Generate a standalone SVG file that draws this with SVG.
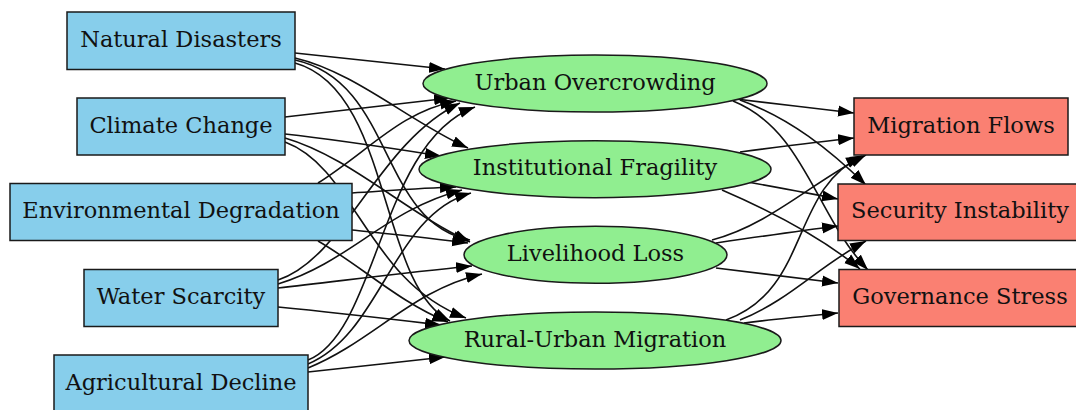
<svg xmlns="http://www.w3.org/2000/svg" width="1076" height="410" viewBox="0 0 1076 410">
  <style>
    .driver rect { fill: #87ceeb; stroke: #1a1a1a; stroke-width: 1.5; }
    .effect ellipse { fill: #90ee90; stroke: #1a1a1a; stroke-width: 1.5; }
    .outcome rect { fill: #fa8072; stroke: #1a1a1a; stroke-width: 1.5; }
    text { font-family: "DejaVu Serif", "Liberation Serif", serif; font-size: 22.5px; fill: #111; text-anchor: middle; }
    #edges path { fill: none; stroke: #111; stroke-width: 1.6; marker-end: url(#arrow); }
  </style>
  <defs>
    <marker id="arrow" markerUnits="userSpaceOnUse" markerWidth="16" markerHeight="12" refX="16" refY="6" orient="auto">
      <path d="M0,0.5 L16,6 L0,11.5 Z" fill="#000"/>
    </marker>
  </defs>
  <rect width="1076" height="410" fill="#fff"/>

  <!-- connectors -->
  <g id="edges">
    <!-- drivers to intermediate effects -->
    <path d="M295,53 C345,58 395,64 445,69"/>
    <path d="M295,58 C355,72 410,122 468,148"/>
    <path d="M295,60 C395,82 378,222 470,240"/>
    <path d="M295,63 C392,90 378,285 450,321"/>

    <path d="M285,117 C340,111 395,104 450,98"/>
    <path d="M285,134 C340,140 390,148 441,156"/>
    <path d="M285,138 C350,157 405,212 470,242"/>
    <path d="M285,142 C355,168 368,282 466,318"/>

    <path d="M318,183 C370,150 400,112 456,101"/>
    <path d="M352,193 C385,191 420,188 456,187"/>
    <path d="M352,230 C390,234 430,238 468,243"/>
    <path d="M318,241 C360,265 400,303 448,322"/>

    <path d="M278,280 C345,258 378,142 460,103"/>
    <path d="M278,284 C350,262 385,210 462,190"/>
    <path d="M278,288 C340,281 410,272 472,266"/>
    <path d="M278,307 C340,313 390,319 441,325"/>

    <path d="M308,360 C378,332 380,142 475,107"/>
    <path d="M308,364 C382,333 392,215 471,193"/>
    <path d="M308,368 C372,342 412,290 482,274"/>
    <path d="M308,372 C352,367 400,362 445,357"/>

    <!-- intermediate effects to outcomes -->
    <path d="M736,99 C775,104 815,108 854,113"/>
    <path d="M740,100 C790,118 830,150 866,185"/>
    <path d="M733,101 C805,130 815,215 868,270"/>

    <path d="M740,152 C778,147 816,142 854,138"/>
    <path d="M742,181 C775,187 808,193 838,199"/>
    <path d="M722,190 C780,215 825,240 860,269"/>

    <path d="M712,240 C770,225 815,180 866,155"/>
    <path d="M716,243 C757,237 798,231 838,226"/>
    <path d="M716,268 C757,273 798,278 838,283"/>

    <path d="M726,320 C810,290 790,190 862,156"/>
    <path d="M740,320 C790,300 820,265 866,241"/>
    <path d="M744,323 C775,319 807,316 838,313"/>
  </g>

  <!-- drivers -->
  <g id="natural-disasters" class="driver">
    <rect x="67" y="12" width="228" height="57.5"/>
    <text x="181" y="46.8">Natural Disasters</text>
  </g>
  <g id="climate-change" class="driver">
    <rect x="77" y="98" width="208" height="57"/>
    <text x="181" y="132.5">Climate Change</text>
  </g>
  <g id="environmental-degradation" class="driver">
    <rect x="10" y="183.5" width="342" height="57"/>
    <text x="181" y="218">Environmental Degradation</text>
  </g>
  <g id="water-scarcity" class="driver">
    <rect x="84" y="269.5" width="194" height="57"/>
    <text x="181" y="304">Water Scarcity</text>
  </g>
  <g id="agricultural-decline" class="driver">
    <rect x="54" y="355" width="254" height="57.5"/>
    <text x="181" y="389.7">Agricultural Decline</text>
  </g>

  <!-- intermediate effects -->
  <g id="urban-overcrowding" class="effect">
    <ellipse cx="595" cy="83.5" rx="172" ry="28.5"/>
    <text x="595" y="89.5">Urban Overcrowding</text>
  </g>
  <g id="institutional-fragility" class="effect">
    <ellipse cx="595" cy="169.2" rx="176" ry="28.5"/>
    <text x="595" y="175.2">Institutional Fragility</text>
  </g>
  <g id="livelihood-loss" class="effect">
    <ellipse cx="595.5" cy="254.8" rx="131.5" ry="28.5"/>
    <text x="595.5" y="260.8">Livelihood Loss</text>
  </g>
  <g id="rural-urban-migration" class="effect">
    <ellipse cx="595" cy="340.5" rx="186" ry="28.5"/>
    <text x="595" y="346.5">Rural-Urban Migration</text>
  </g>

  <!-- outcomes -->
  <g id="migration-flows" class="outcome">
    <rect x="854" y="98" width="214" height="57"/>
    <text x="961" y="132.5">Migration Flows</text>
  </g>
  <g id="security-instability" class="outcome">
    <rect x="838" y="184" width="246" height="56.5"/>
    <text x="960" y="218">Security Instability</text>
  </g>
  <g id="governance-stress" class="outcome">
    <rect x="839" y="269.5" width="244" height="57"/>
    <text x="960" y="304">Governance Stress</text>
  </g>
</svg>
